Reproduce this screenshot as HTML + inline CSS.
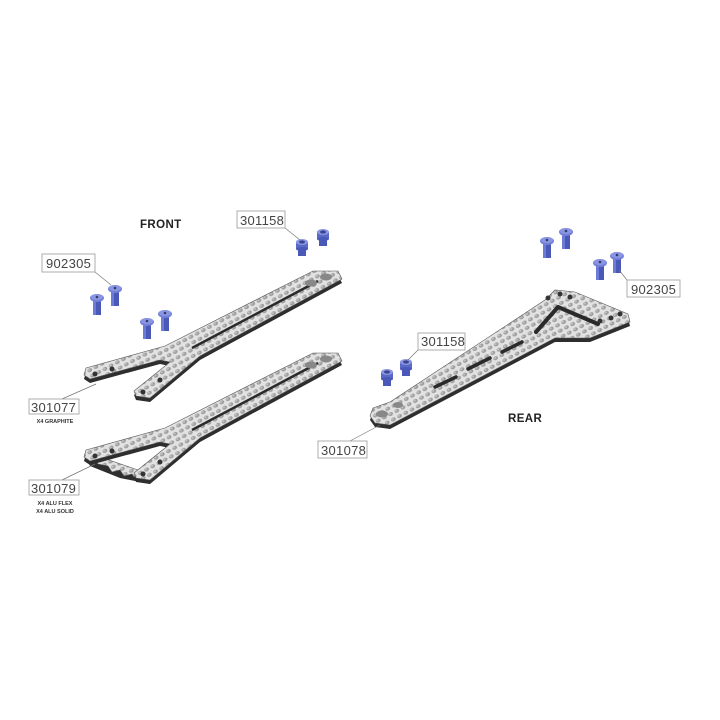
<!DOCTYPE html>
<html><head><meta charset="utf-8"><style>
html,body{margin:0;padding:0;background:#fff}
svg{display:block}
.lb{font-family:"Liberation Sans",sans-serif;font-size:13px;fill:#444;letter-spacing:0.3px}
.sm{font-family:"Liberation Sans",sans-serif;font-size:5.5px;font-weight:bold;fill:#333}
.hd{font-family:"Liberation Sans",sans-serif;font-size:11.5px;font-weight:900;fill:#222;letter-spacing:0.4px}
.box{fill:#fff;stroke:#999;stroke-width:0.8}
.ld{stroke:#777;stroke-width:0.7;fill:none}
</style></head><body>
<svg width="720" height="720" viewBox="0 0 720 720" xmlns="http://www.w3.org/2000/svg">
<defs>
<pattern id="tx" width="7" height="6" patternUnits="userSpaceOnUse" patternTransform="rotate(-28)">
<rect width="7" height="6" fill="#e2e2e2"/>
<ellipse cx="3.5" cy="3" rx="2.5" ry="1.9" fill="#9d9d9d"/>
<ellipse cx="3" cy="2.5" rx="1.2" ry="0.9" fill="#c4c4c4"/>
</pattern>
<g id="scr">
<rect x="-4" y="0" width="8" height="17" fill="#4a58b8"/>
<rect x="-4" y="0" width="3" height="17" fill="#6d7bd6"/>
<ellipse cx="0" cy="0" rx="7" ry="4" fill="#7380d8"/>
<ellipse cx="0" cy="-1" rx="6" ry="3" fill="#8b96e2"/>
<circle cx="0" cy="-1" r="1.3" fill="#333a70"/>
</g>
<g id="ins">
<rect x="-4" y="5" width="8" height="9" fill="#4a58b8"/>
<rect x="-6" y="0" width="12" height="7" fill="#5a68c6"/>
<ellipse cx="0" cy="7" rx="6" ry="2" fill="#4a58b8"/>
<ellipse cx="0" cy="0" rx="6" ry="3" fill="#8b96e2"/>
<ellipse cx="0" cy="0" rx="3" ry="1.6" fill="#3a4490"/>
</g>
<polygon id="p1" points="313,271 338,271 342,279 200,356 150,398 136,396 134,391 170,362 160,360 90,379 84,375 86,368 165,346"/>
</defs>

<!-- plate 1 -->
<use href="#p1" transform="translate(0,4)" fill="#2e2e2e"/>
<use href="#p1" fill="url(#tx)" stroke="#555" stroke-width="0.6"/>
<line x1="192" y1="348" x2="318" y2="281" stroke="#2a2a2a" stroke-width="2.5"/>
<ellipse cx="326" cy="277" rx="6" ry="3.5" fill="#888"/><ellipse cx="311" cy="283" rx="6" ry="3.5" fill="#888"/>
<circle cx="95" cy="374" r="2.5" fill="#333"/><circle cx="112" cy="369" r="2.5" fill="#333"/>
<circle cx="143" cy="392" r="2.5" fill="#333"/><circle cx="160" cy="380" r="2.5" fill="#333"/>

<!-- plate 2 -->
<g transform="translate(0,82)">
<polygon points="86,370 140,386 150,398 120,392 90,380" fill="#2e2e2e" transform="translate(0,4)"/>
<polygon points="86,370 138,388 150,398 136,398 132,392 124,394 120,388 112,390 108,384 98,382" fill="url(#tx)" stroke="#555" stroke-width="0.6"/>
<use href="#p1" transform="translate(0,4)" fill="#2e2e2e"/>
<use href="#p1" fill="url(#tx)" stroke="#555" stroke-width="0.6"/>
<line x1="192" y1="348" x2="318" y2="281" stroke="#2a2a2a" stroke-width="2.5"/>
<ellipse cx="326" cy="277" rx="6" ry="3.5" fill="#888"/><ellipse cx="311" cy="283" rx="6" ry="3.5" fill="#888"/>
<circle cx="95" cy="374" r="2.5" fill="#333"/><circle cx="112" cy="369" r="2.5" fill="#333"/>
<circle cx="143" cy="392" r="2.5" fill="#333"/><circle cx="160" cy="380" r="2.5" fill="#333"/>
</g>

<!-- rear plate -->
<polygon points="373,408 390,402 545,300 555,290 575,292 628,314 630,322 590,338 555,338 390,425 375,423 370,416" transform="translate(0,4)" fill="#2e2e2e"/>
<polygon points="373,408 390,402 545,300 555,290 575,292 628,314 630,322 590,338 555,338 390,425 375,423 370,416" fill="url(#tx)" stroke="#555" stroke-width="0.6"/>
<polyline points="536,332 558,307 598,324" fill="none" stroke="#2a2a2a" stroke-width="4" stroke-linejoin="round" stroke-linecap="round"/>
<g stroke="#2a2a2a" stroke-width="3.5" stroke-linecap="round">
<line x1="435" y1="387" x2="456" y2="377"/><line x1="468" y1="369" x2="490" y2="358"/>
<line x1="502" y1="352" x2="522" y2="342"/>
</g>
<ellipse cx="382" cy="414" rx="6" ry="3.5" fill="#888"/><ellipse cx="398" cy="405" rx="5" ry="3" fill="#888"/>
<circle cx="548" cy="298" r="2.5" fill="#333"/><circle cx="560" cy="294" r="2.5" fill="#333"/><circle cx="570" cy="297" r="2.5" fill="#333"/>
<circle cx="600" cy="321" r="2.5" fill="#333"/><circle cx="611" cy="318" r="2.5" fill="#333"/><circle cx="620" cy="314" r="2.5" fill="#333"/>

<!-- screws -->
<use href="#scr" x="97" y="298"/><use href="#scr" x="115" y="289"/>
<use href="#scr" x="147" y="322"/><use href="#scr" x="165" y="314"/>
<use href="#scr" x="547" y="241"/><use href="#scr" x="566" y="232"/>
<use href="#scr" x="600" y="263"/><use href="#scr" x="617" y="256"/>
<use href="#ins" x="302" y="242"/><use href="#ins" x="323" y="232"/>
<use href="#ins" x="387" y="372"/><use href="#ins" x="406" y="362"/>

<!-- leaders -->
<path class="ld" d="M95,272 L111,285"/>
<path class="ld" d="M285,228 L300,240"/>
<path class="ld" d="M62,399 L96,384"/>
<path class="ld" d="M62,480 L95,464"/>
<path class="ld" d="M418,350 L408,360"/>
<path class="ld" d="M350,441 L380,425"/>
<path class="ld" d="M627,280 L619,270"/>

<!-- labels -->
<text class="hd" x="140" y="228">FRONT</text>
<text class="hd" x="508" y="422">REAR</text>
<rect class="box" x="42" y="254" width="53" height="18"/><text class="lb" x="46" y="268">902305</text>
<rect class="box" x="237" y="211" width="48" height="17"/><text class="lb" x="240" y="225">301158</text>
<rect class="box" x="29" y="399" width="50" height="15"/><text class="lb" x="31" y="412">301077</text>
<text class="sm" x="55" y="423" text-anchor="middle">X4 GRAPHITE</text>
<rect class="box" x="29" y="480" width="50" height="15"/><text class="lb" x="31" y="493">301079</text>
<text class="sm" x="55" y="505" text-anchor="middle">X4 ALU FLEX</text>
<text class="sm" x="55" y="513" text-anchor="middle">X4 ALU SOLID</text>
<rect class="box" x="418" y="333" width="47" height="17"/><text class="lb" x="421" y="346">301158</text>
<rect class="box" x="318" y="441" width="49" height="17"/><text class="lb" x="321" y="455">301078</text>
<rect class="box" x="627" y="280" width="53" height="17"/><text class="lb" x="631" y="294">902305</text>
</svg>
</body></html>
